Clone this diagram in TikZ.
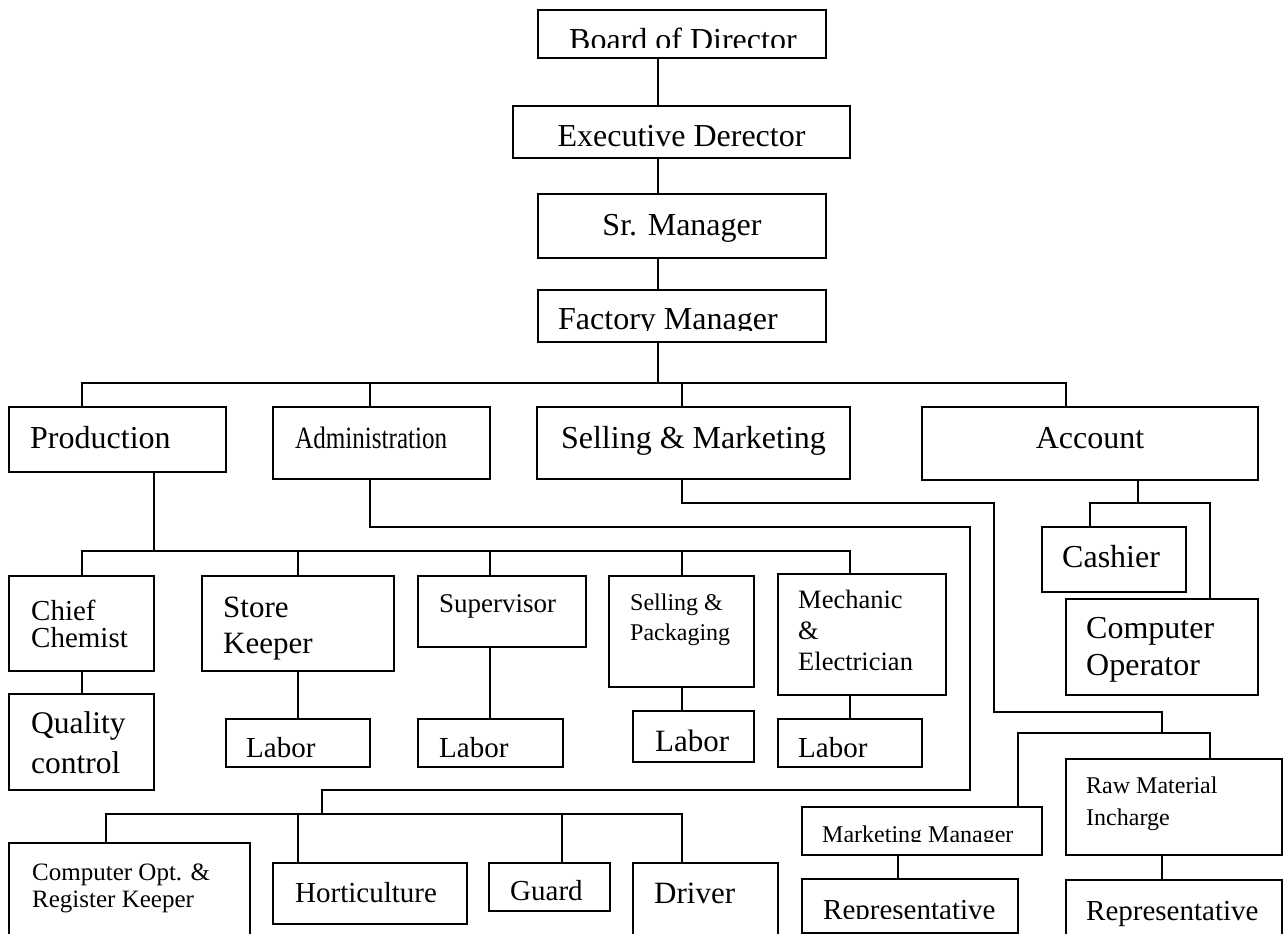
\documentclass[tikz,border=0pt]{standalone}
\usepackage{fontspec}
\usepackage{graphicx}
\setmainfont{Liberation Serif}
\newcommand\fsz[2]{\fontsize{#1}{#2}\selectfont}
\newcommand\ml[1]{\parbox[t]{300pt}{#1}}
\begin{document}
\begin{tikzpicture}[x=1pt,y=-1pt,
  box/.style={draw, line width=1.7pt, inner sep=0pt, outer sep=0pt, anchor=north west},
  txt/.style={inner sep=0pt, anchor=base west},
  ctxt/.style={inner sep=0pt, anchor=base},
  link/.style={line width=1.7pt}]
\fill[white] (0,0) rectangle (1288,934);
\clip (0,0) rectangle (1288,934);

% ---- boxes ----
\node[box, minimum width=288, minimum height=48] (board) at (538,10) {};
\node[box, minimum width=337, minimum height=52] (exec) at (513,106) {};
\node[box, minimum width=288, minimum height=64] (srm) at (538,194) {};
\node[box, minimum width=288, minimum height=52] (fm) at (538,290) {};
\node[box, minimum width=217, minimum height=65] (prod) at (9,407) {};
\node[box, minimum width=217, minimum height=72] (admin) at (273,407) {};
\node[box, minimum width=313, minimum height=72] (sell) at (537,407) {};
\node[box, minimum width=336, minimum height=73] (acct) at (922,407) {};
\node[box, minimum width=145, minimum height=95] (chief) at (9,576) {};
\node[box, minimum width=145, minimum height=96] (qc) at (9,694) {};
\node[box, minimum width=192, minimum height=95] (store) at (202,576) {};
\node[box, minimum width=144, minimum height=48] (lab1) at (226,719) {};
\node[box, minimum width=168, minimum height=71] (sup) at (418,576) {};
\node[box, minimum width=145, minimum height=48] (lab2) at (418,719) {};
\node[box, minimum width=145, minimum height=111] (pack) at (609,576) {};
\node[box, minimum width=121, minimum height=51] (lab3) at (633,711) {};
\node[box, minimum width=168, minimum height=121] (mech) at (778,574) {};
\node[box, minimum width=144, minimum height=48] (lab4) at (778,719) {};
\node[box, minimum width=144, minimum height=65] (cash) at (1042,527) {};
\node[box, minimum width=192, minimum height=96] (cop) at (1066,599) {};
\node[box, minimum width=241, minimum height=120] (creg) at (9,843) {};
\node[box, minimum width=194, minimum height=61] (hort) at (273,863) {};
\node[box, minimum width=121, minimum height=48] (guard) at (489,863) {};
\node[box, minimum width=145, minimum height=100] (driver) at (633,863) {};
\node[box, minimum width=240, minimum height=48] (mkt) at (802,807) {};
\node[box, minimum width=216, minimum height=54] (rep1) at (802,879) {};
\node[box, minimum width=216, minimum height=96] (raw) at (1066,759) {};
\node[box, minimum width=216, minimum height=80] (rep2) at (1066,880) {};

% ---- labels ----
\begin{scope}
  \clip (538,10) rectangle (826,47.5);
  \node[txt, font=\fsz{32}{36}] (board-t) at (569,50.5) {Board of Director};
\end{scope}
\node[ctxt, font=\fsz{32}{36}] (exec-t) at (681.5,146) {Executive Derector};
\node[ctxt, font=\fsz{32}{36}] (srm-t) at (682,235) {Sr. Manager};
\begin{scope}
  \clip (538,290) rectangle (826,330.5);
  \node[txt, font=\fsz{32}{36}] (fm-t) at (558,329.5) {Factory Manager};
\end{scope}
\node[txt, font=\fsz{32}{36}] (prod-t) at (30,448) {Production};
\node[txt, font=\fsz{31}{36}] (admin-t) at (295,448) {\scalebox{0.81}[1]{Administration}};
\node[ctxt, font=\fsz{32}{36}] (sell-t) at (693.5,448) {Selling \& Marketing};
\node[ctxt, font=\fsz{32}{36}] (acct-t) at (1090,448) {Account};
\node[txt, font=\fsz{29}{27}] (chief-t) at (31,620) {\ml{Chief\\Chemist}};
\node[txt, font=\fsz{31.5}{40}] (qc-t) at (31,733) {\ml{Quality\\control}};
\node[txt, font=\fsz{31}{36}] (store-t) at (223,617) {\ml{Store\\Keeper}};
\node[txt, font=\fsz{29}{33}] (lab1-t) at (246,757) {Labor};
\node[txt, font=\fsz{27}{31}] (sup-t) at (439,612) {Supervisor};
\node[txt, font=\fsz{29}{33}] (lab2-t) at (439,757) {Labor};
\node[txt, font=\fsz{24}{30}] (pack-t) at (630,610) {\ml{Selling \&\\Packaging}};
\node[txt, font=\fsz{31}{36}] (lab3-t) at (655,751) {Labor};
\node[txt, font=\fsz{26.5}{31}] (mech-t) at (798,608) {\ml{Mechanic\\\&\\Electrician}};
\node[txt, font=\fsz{29}{33}] (lab4-t) at (798,757) {Labor};
\node[txt, font=\fsz{32}{36}] (cash-t) at (1062,567) {Cashier};
\node[txt, font=\fsz{32}{37}] (cop-t) at (1086,638) {\ml{Computer\\Operator}};
\node[txt, font=\fsz{25}{27}] (creg-t) at (32,880) {\ml{Computer Opt. \&\\Register Keeper}};
\node[txt, font=\fsz{29}{33}] (hort-t) at (295,902) {Horticulture};
\node[txt, font=\fsz{29}{33}] (guard-t) at (510,900) {Guard};
\node[txt, font=\fsz{31}{36}] (driver-t) at (654,903) {Driver};
\begin{scope}
  \clip (802,807) rectangle (1042,841);
  \node[txt, font=\fsz{24}{28}] (mkt-t) at (822,842) {Marketing Manager};
\end{scope}
\begin{scope}
  \clip (802,879) rectangle (1018,918);
  \node[txt, font=\fsz{29}{33}] (rep1-t) at (823,919) {Representative};
\end{scope}
\node[txt, font=\fsz{24}{32}] (raw-t) at (1086,793) {\ml{Raw Material\\Incharge}};
\node[txt, font=\fsz{29}{33}] (rep2-t) at (1086,920) {Representative};

% ---- top chain ----
\draw[link] (board.south -| 658,0) -- (exec.north -| 658,0);
\draw[link] (exec.south -| 658,0) -- (srm.north -| 658,0);
\draw[link] (srm.south -| 658,0) -- (fm.north -| 658,0);
\coordinate (b1) at (658,383);
\draw[link] (fm.south -| b1) -- (b1);
\draw[link] (prod.north -| 82,0) -- (b1 -| 82,0) -- (b1 -| 1066,0) -- (acct.north -| 1066,0);
\draw[link] (b1 -| 370,0) -- (admin.north -| 370,0);
\draw[link] (b1 -| 682,0) -- (sell.north -| 682,0);

% ---- production ----
\coordinate (b2) at (154,551);
\draw[link] (prod.south -| b2) -- (b2);
\draw[link] (chief.north -| 82,0) -- (b2 -| 82,0) -- (b2 -| 850,0) -- (mech.north -| 850,0);
\draw[link] (b2 -| 298,0) -- (store.north -| 298,0);
\draw[link] (b2 -| 490,0) -- (sup.north -| 490,0);
\draw[link] (b2 -| 682,0) -- (pack.north -| 682,0);
\draw[link] (chief.south -| 82,0) -- (qc.north -| 82,0);
\draw[link] (store.south -| 298,0) -- (lab1.north -| 298,0);
\draw[link] (sup.south -| 490,0) -- (lab2.north -| 490,0);
\draw[link] (pack.south -| 682,0) -- (lab3.north -| 682,0);
\draw[link] (mech.south -| 850,0) -- (lab4.north -| 850,0);

% ---- administration ----
\coordinate (b3) at (322,814);
\draw[link] (admin.south -| 370,0) -- (370,527) -- (970,527) -- (970,790) -- (322,790) -- (b3);
\draw[link] (creg.north -| 106,0) -- (b3 -| 106,0) -- (b3 -| 682,0) -- (driver.north -| 682,0);
\draw[link] (b3 -| 298,0) -- (hort.north -| 298,0);
\draw[link] (b3 -| 562,0) -- (guard.north -| 562,0);

% ---- selling & marketing ----
\coordinate (b4) at (1162,733);
\draw[link] (sell.south -| 682,0) -- (682,503) -- (994,503) -- (994,712) -- (1162,712) -- (b4);
\draw[link] (mkt.north -| 1018,0) -- (b4 -| 1018,0) -- (b4 -| 1210,0) -- (raw.north -| 1210,0);
\draw[link] (mkt.south -| 898,0) -- (rep1.north -| 898,0);
\draw[link] (raw.south -| 1162,0) -- (rep2.north -| 1162,0);

% ---- account ----
\coordinate (b5) at (1138,503);
\draw[link] (acct.south -| b5) -- (b5);
\draw[link] (cash.north -| 1090,0) -- (b5 -| 1090,0) -- (b5 -| 1210,0) -- (cop.north -| 1210,0);
\end{tikzpicture}
\end{document}
